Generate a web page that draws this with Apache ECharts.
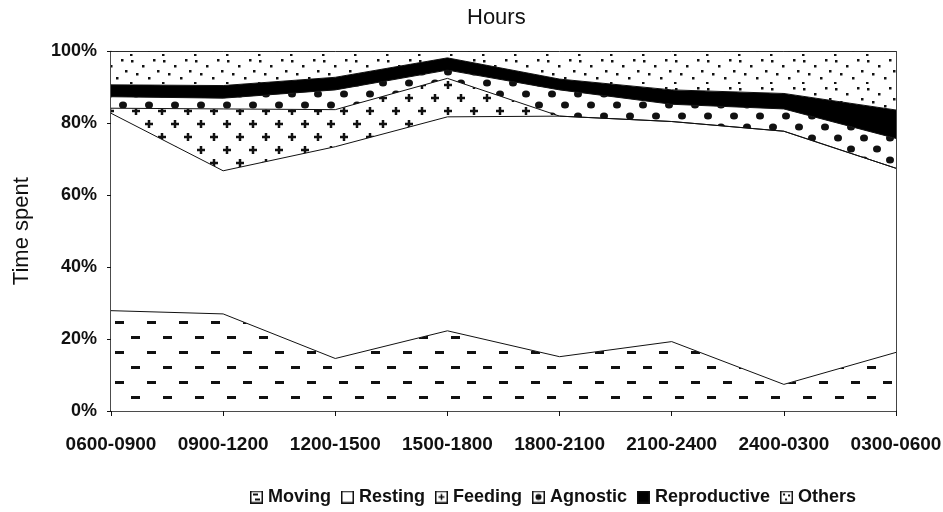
<!DOCTYPE html>
<html><head><meta charset="utf-8">
<script src="https://cdn.jsdelivr.net/npm/echarts@6/dist/echarts.min.js"></script>
<style>html,body{margin:0;padding:0;background:#fff}#c{width:943px;height:512px}</style>
</head><body><div id="c"></div>
<script>
// ---- data (percent of time, stacked bottom -> top) ----
const categories = ['0600-0900','0900-1200','1200-1500','1500-1800','1800-2100','2100-2400','2400-0300','0300-0600'];
const moving       = [27.9, 27.0, 14.6, 22.3, 15.1, 19.3, 7.4, 16.3];
const resting      = [54.9, 39.8, 58.9, 59.5, 66.9, 61.2, 70.4, 51.2];
const feeding      = [1.4, 17.2, 10.3, 10.7, 0, 0, 0, 0];
const agnostic     = [3.2, 3.0, 5.5, 2.3, 7.3, 4.8, 6.2, 8.3];
const reproductive = [3.3, 3.5, 3.5, 3.4, 3.0, 4.0, 4.3, 7.9];
const others       = [9.3, 9.5, 7.2, 1.8, 7.7, 10.7, 11.7, 16.3];
const seriesNames  = ['Moving','Resting','Feeding','Agnostic','Reproductive','Others'];

// ---- fill patterns ----
const INK = '#111';
function tile(w, h, draw, bg) {
  const c = document.createElement('canvas'); c.width = w; c.height = h;
  const x = c.getContext('2d'); x.fillStyle = bg || '#fff'; x.fillRect(0, 0, w, h);
  x.fillStyle = INK; x.strokeStyle = INK; draw(x); return c;
}
const dashTile = tile(32, 30, x => { x.fillRect(3, 6, 9, 3); x.fillRect(19, 21, 9, 3); });
const crossTile = tile(26, 26, x => {
  x.lineWidth = 2.5;
  [[6, 7], [19, 20]].forEach(([cx, cy]) => {
    x.beginPath(); x.moveTo(cx - 4, cy); x.lineTo(cx + 4, cy); x.moveTo(cx, cy - 4); x.lineTo(cx, cy + 4); x.stroke();
  });
});
const blobTile = tile(26, 22, x => {
  [[6, 6], [19, 17]].forEach(([cx, cy]) => { x.beginPath(); x.ellipse(cx, cy, 4, 3.5, 0, 0, Math.PI * 2); x.fill(); });
});
const dotTile = tile(32, 28, x => {
  [[3, 4], [14, 9], [25, 3], [8, 17], [20, 21], [29, 14], [2, 26]].forEach(([cx, cy]) => x.fillRect(cx, cy, 2.5, 2.5));
});
const pat = c => ({ image: c, repeat: 'repeat' });
const fills = [pat(dashTile), '#ffffff', pat(crossTile), pat(blobTile), '#000000', pat(dotTile)];

// ---- legend icons ----
function icon(draw, fillBlack) {
  const c = document.createElement('canvas'); c.width = 13; c.height = 13;
  const x = c.getContext('2d');
  x.fillStyle = fillBlack ? '#000' : '#fff'; x.fillRect(0, 0, 13, 13);
  x.strokeStyle = INK; x.lineWidth = 1.5; x.strokeRect(0.75, 0.75, 11.5, 11.5);
  x.fillStyle = INK; x.strokeStyle = INK; if (draw) draw(x);
  return 'image://' + c.toDataURL();
}
const icons = [
  icon(x => { x.fillRect(3, 3, 5, 2); x.fillRect(5, 8, 5, 2); }),
  icon(null),
  icon(x => { x.lineWidth = 1.6; x.beginPath(); x.moveTo(3.5, 6.5); x.lineTo(9.5, 6.5); x.moveTo(6.5, 3.5); x.lineTo(6.5, 9.5); x.stroke(); }),
  icon(x => { x.beginPath(); x.arc(6.5, 6.5, 3, 0, Math.PI * 2); x.fill(); }),
  icon(null, true),
  icon(x => { x.fillRect(3, 3, 2, 2); x.fillRect(8, 4, 2, 2); x.fillRect(5, 8, 2, 2); })
];

const values = [moving, resting, feeding, agnostic, reproductive, others];
const BOLD = '"Liberation Sans", Arial, sans-serif';
const REG = '"Liberation Sans", Arial, sans-serif';

const chart = echarts.init(document.getElementById('c'), null, { renderer: 'canvas' });
chart.setOption({
  animation: false,
  backgroundColor: '#fff',
  title: { text: 'Hours', left: 467, top: 7, padding: 0,
    textStyle: { fontFamily: REG, fontSize: 22, fontWeight: 'normal', color: INK } },
  grid: { left: 111, right: 47, top: 51.4, bottom: 101, show: false, outerBoundsMode: 'none', containLabel: false },
  legend: {
    left: 250, top: 488, padding: 0, itemGap: 10, itemWidth: 13, itemHeight: 13,
    textStyle: { fontFamily: BOLD, fontSize: 18, fontWeight: 'bold', color: INK },
    data: seriesNames.map((n, i) => ({ name: n, icon: icons[i] }))
  },
  xAxis: {
    type: 'category', data: categories, boundaryGap: false,
    axisLine: { lineStyle: { color: INK, width: 1.5 } },
    axisTick: { show: true, length: 5, lineStyle: { color: INK } },
    axisLabel: { interval: 0, margin: 24, fontFamily: BOLD, fontSize: 19, fontWeight: 'bold', color: INK },
    splitLine: { show: false }
  },
  yAxis: [{
    type: 'value', min: 0, max: 100, interval: 20,
    name: 'Time spent', nameLocation: 'middle', nameGap: 78,
    nameTextStyle: { fontFamily: REG, fontSize: 22, color: INK },
    axisLine: { show: true, lineStyle: { color: INK, width: 1.5 } },
    axisTick: { show: true, length: 4, lineStyle: { color: INK } },
    axisLabel: { margin: 14, formatter: '{value}%', fontFamily: BOLD, fontSize: 18, fontWeight: 'bold', color: INK },
    splitLine: { show: false }
  }, {
    type: 'value', min: 0, max: 100, interval: 20, position: 'right',
    axisLine: { show: true, lineStyle: { color: '#444', width: 1 } },
    axisTick: { show: false }, axisLabel: { show: false }, splitLine: { show: false }
  }],
  series: seriesNames.map((n, i) => ({
    name: n, type: 'line', stack: 'total', data: values[i],
    symbol: 'none', showSymbol: false,
    lineStyle: { color: INK, width: 1 },
    itemStyle: { color: typeof fills[i] === 'string' ? fills[i] : '#888' },
    areaStyle: { color: fills[i], opacity: 1 }
  }))
});
</script></body></html>
